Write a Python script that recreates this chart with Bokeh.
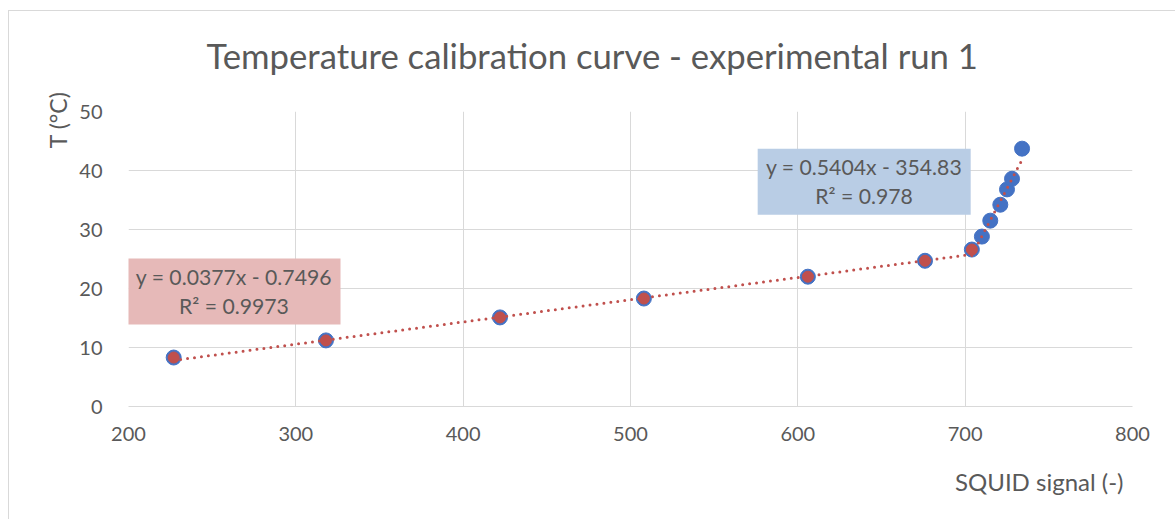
from bokeh.plotting import figure
from bokeh.models import Label, BoxAnnotation, FixedTicker, Range1d, Title
from bokeh.embed import file_html
from bokeh.resources import INLINE

# ---- data ----
squid = [227, 318, 422, 508, 606, 676, 704, 710, 715, 721, 725, 728, 734]
temp = [8.3, 11.2, 15.1, 18.3, 22.0, 24.7, 26.6, 28.8, 31.5, 34.2, 36.8, 38.6, 43.7]
low_squid = squid[:7]
low_temp = temp[:7]
high_squid = squid[6:]
fit1 = (0.0377, -0.7496)
fit2 = (0.5404, -354.83)
eq1 = "y = 0.0377x - 0.7496\nR² = 0.9973"
eq2 = "y = 0.5404x - 354.83\nR² = 0.978"
x_ticks = [200, 300, 400, 500, 600, 700, 800]
y_ticks = [0, 10, 20, 30, 40, 50]

FONT = "Lato"
GREY = "#595959"
GRID = "#d9d9d9"

W, H = 1167, 519
p = figure(width=W, height=H, output_backend="svg", toolbar_location=None,
           x_range=Range1d(200, 800), y_range=Range1d(0, 50),
           min_border_left=120, min_border_right=43, min_border_top=111,
           min_border_bottom=113)
p.margin = (0, 0, 0, 8)
p.border_fill_color = None
# chart-area border (top at 10px, left edge) drawn behind the transparent canvas
p.styles = {
    "background-image": "linear-gradient(#d9d9d9, #d9d9d9), linear-gradient(#d9d9d9, #d9d9d9)",
    "background-size": "100% 1px, 1px 100%",
    "background-position": "0 10px, 0 10px",
    "background-repeat": "no-repeat",
}
p.outline_line_color = None

for ax in (p.xaxis, p.yaxis):
    ax.major_tick_line_color = None
    ax.minor_tick_line_color = None
    ax.major_label_text_font = FONT
    ax.major_label_text_font_size = "20px"
    ax.major_label_text_color = GREY
p.xaxis.axis_line_color = GRID
p.yaxis.axis_line_color = None
p.xaxis.ticker = FixedTicker(ticks=x_ticks)
p.yaxis.ticker = FixedTicker(ticks=y_ticks)
p.xaxis.major_label_standoff = 14
p.yaxis.major_label_standoff = 20
p.xgrid.grid_line_color = GRID
p.ygrid.grid_line_color = GRID
p.xgrid.ticker = FixedTicker(ticks=x_ticks)
p.ygrid.ticker = FixedTicker(ticks=y_ticks)

# titles
p.title = Title(text="Temperature calibration curve - experimental run 1", align="left",
                text_font=FONT, text_font_size="34.7px", text_color=GREY,
                text_font_style="normal", offset=78, standoff=67, vertical_align="top")
p.add_layout(Title(text="T (°C)", align="right", text_font=FONT, text_font_size="23px",
                   text_color=GREY, text_font_style="normal", offset=-20, standoff=10), "left")
p.add_layout(Title(text="SQUID signal (-)", align="right", text_font=FONT,
                   text_font_size="24px", text_color=GREY, text_font_style="normal",
                   offset=9, standoff=43), "below")

# markers
p.scatter(squid, temp, size=15, fill_color="#4472C4", line_color="#4472C4")
p.scatter(low_squid, low_temp, size=11, fill_color="#C0504D", line_color="#C0504D")

# trendlines
x1 = [min(low_squid), max(low_squid)]
p.line(x1, [fit1[0] * v + fit1[1] for v in x1], line_color="#C0504D",
       line_width=3, line_dash="0 7", line_cap="round")
x2 = [min(high_squid), max(high_squid)]
p.line(x2, [fit2[0] * v + fit2[1] for v in x2], line_color="#C0504D",
       line_width=3, line_dash="0 7", line_cap="round")

# equation boxes
p.add_layout(BoxAnnotation(left=199.4, right=326.7, bottom=13.9, top=25.1,
                           fill_color="#E6B9B8", fill_alpha=1, line_color=None))
p.add_layout(BoxAnnotation(left=576.0, right=703.3, bottom=32.5, top=43.7,
                           fill_color="#B9CDE5", fill_alpha=1, line_color=None))
p.add_layout(Label(x=263, y=19.5, text=eq1, text_align="center", text_baseline="middle",
                   text_font=FONT, text_font_size="21.2px", text_color=GREY, text_line_height=1.12))
p.add_layout(Label(x=639.6, y=38.1, text=eq2, text_align="center", text_baseline="middle",
                   text_font=FONT, text_font_size="21.2px", text_color=GREY, text_line_height=1.12))

open("out.html", "w").write(file_html(p, INLINE))
